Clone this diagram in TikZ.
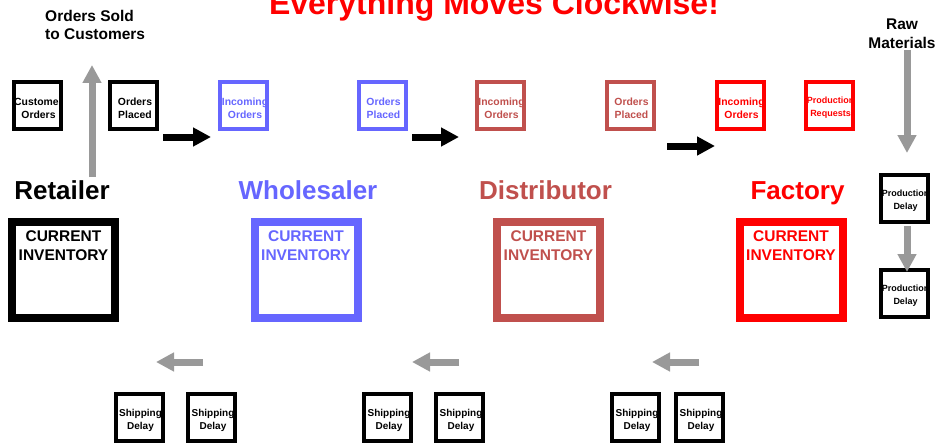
\documentclass[tikz,border=0pt]{standalone}
\usepackage{fontspec}
\setmainfont{Liberation Sans}
\usepackage{tikz}
\usepackage{xcolor}
\usetikzlibrary{arrows.meta,positioning}
\definecolor{wholeblue}{RGB}{102,102,255}
\definecolor{distred}{RGB}{192,80,77}
\definecolor{factred}{RGB}{255,0,0}
\definecolor{flowgray}{RGB}{153,153,153}

\begin{document}
\begin{tikzpicture}[x=1pt,y=-1pt,
    tag/.style n args={3}{draw=#1, fill=white, line width=4pt, minimum size=47pt, inner sep=0pt,
        path picture={\node[text=#1, align=center, inner sep=0pt,
            font=\bfseries\fontsize{#2}{13}\selectfont] at ([xshift=1.5pt,yshift=-2.5pt]path picture bounding box.center) {#3};}},
    inv/.style={draw=#1, fill=white, line width=8pt, minimum width=103pt, minimum height=96pt, inner sep=0pt},
    invtext/.style={text=#1, align=center, inner sep=0pt, font=\bfseries\fontsize{15.5}{19}\selectfont},
    role/.style={text=#1, anchor=base, inner sep=0pt, font=\bfseries\fontsize{26}{30}\selectfont},
    caption/.style={align=center, inner sep=0pt, font=\bfseries\fontsize{15.5}{18.5}\selectfont},
    flow/.style={draw=#1, line width=7pt, -{Triangle[length=18pt,width=18pt]}}]
    \useasboundingbox (0,0) rectangle (935,444);

    % Title and outside flows
    \node[role=factred, font=\bfseries\fontsize{32}{36}\selectfont] (title) at (494,15) {Everything Moves Clockwise!};
    \node[caption, anchor=north west, align=left] (sold) at (45,10) {Orders Sold\\to Customers};
    \node[caption, anchor=north] (raw) at (902,19) {Raw\\Materials};
    \draw[flow=flowgray] (92,177) -- (92,65);
    \draw[flow=flowgray] (907,50) -- (907,153);

    % Retailer
    \node[tag={black}{10.4}{Customer\\Orders}] (custord) at (37,105.5) {};
    \node[tag={black}{10.4}{Orders\\Placed}] (retplaced) at (133.5,105.5) {};
    \node[role=black] (retail) at (62,199) {Retailer};
    \node[inv=black] (retinv) at (63.5,270) {};
    \node[invtext=black, below=12pt of retinv.north] (retinvtxt) {CURRENT\\INVENTORY};
    \draw[flow=black] (163,137) -- (211,137);

    % Wholesaler
    \node[tag={wholeblue}{10.4}{Incoming\\Orders}] (wholein) at (243.5,105.5) {};
    \node[tag={wholeblue}{10.4}{Orders\\Placed}] (wholeplaced) at (382,105.5) {};
    \node[role=wholeblue] (whole) at (308,199) {Wholesaler};
    \node[inv=wholeblue] (wholeinv) at (306,270) {};
    \node[invtext=wholeblue, below=12pt of wholeinv.north] (wholeinvtxt) {CURRENT\\INVENTORY};
    \draw[flow=black] (412,137) -- (459,137);

    % Distributor
    \node[tag={distred}{10.4}{Incoming\\Orders}] (distin) at (500,105.5) {};
    \node[tag={distred}{10.4}{Orders\\Placed}] (distplaced) at (630,105.5) {};
    \node[role=distred] (dist) at (545.5,199) {Distributor};
    \node[inv=distred] (distinv) at (548.5,270) {};
    \node[invtext=distred, below=12pt of distinv.north] (distinvtxt) {CURRENT\\INVENTORY};
    \draw[flow=black] (667,146) -- (715,146);

    % Factory
    \node[tag={factred}{10.4}{Incoming\\Orders}] (factin) at (740,105.5) {};
    \node[tag={factred}{9}{Production\\Requests}] (prodreq) at (829,105.5) {};
    \node[role=factred] (fact) at (797.5,199) {Factory};
    \node[inv=factred] (factinv) at (791,270) {};
    \node[invtext=factred, below=12pt of factinv.north] (factinvtxt) {CURRENT\\INVENTORY};

    % Production delays
    \node[tag={black}{9}{Production\\Delay}] (prodone) at (904,198) {};
    \node[tag={black}{9}{Production\\Delay}] (prodtwo) at (904,293.5) {};
    \draw[flow=flowgray] (907,226) -- (907,272);

    % Shipping delays
    \node[tag={black}{10}{Shipping\\Delay}] (shipa) at (139,417.5) {};
    \node[tag={black}{10}{Shipping\\Delay}] (shipb) at (211.5,417.5) {};
    \node[tag={black}{10}{Shipping\\Delay}] (shipc) at (387.5,417.5) {};
    \node[tag={black}{10}{Shipping\\Delay}] (shipd) at (459.5,417.5) {};
    \node[tag={black}{10}{Shipping\\Delay}] (shipe) at (635.5,417.5) {};
    \node[tag={black}{10}{Shipping\\Delay}] (shipf) at (699.5,417.5) {};
    \draw[flow=flowgray] (203,362) -- (156,362);
    \draw[flow=flowgray] (459,362) -- (412,362);
    \draw[flow=flowgray] (699,362) -- (652,362);
\end{tikzpicture}
\end{document}
